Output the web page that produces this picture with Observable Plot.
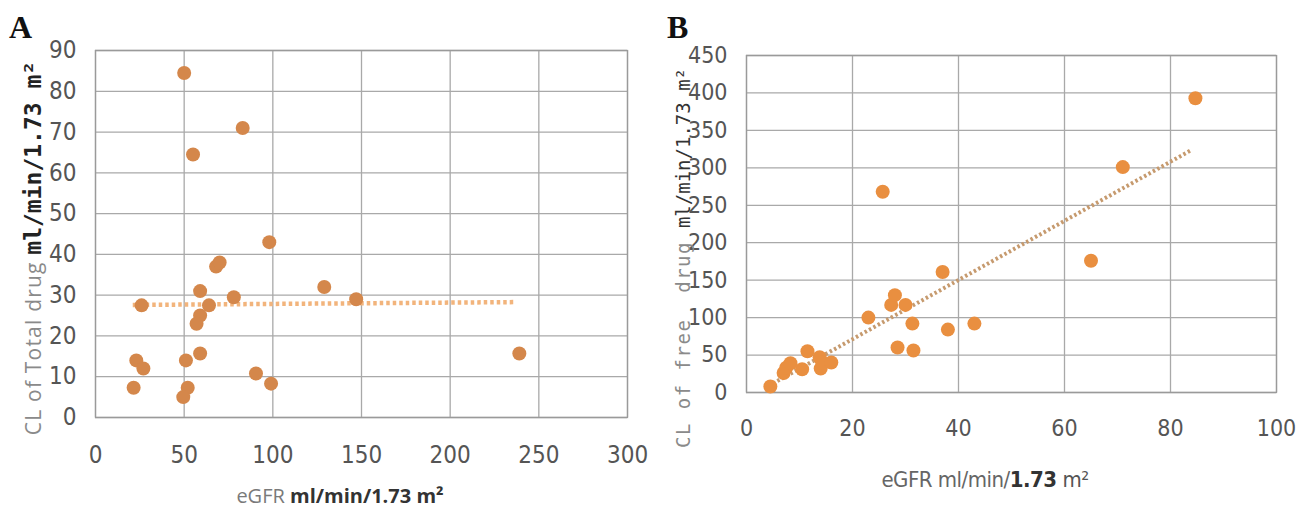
<!DOCTYPE html>
<html><head><meta charset="utf-8">
<script src="https://cdn.jsdelivr.net/npm/d3@7"></script>
<script src="https://cdn.jsdelivr.net/npm/@observablehq/plot@0.6"></script>
<style>
body{margin:0;background:#fff}
#wrap{position:relative;width:1298px;height:511px;overflow:hidden}
.panel{position:absolute;top:0}
</style>
</head><body><div id="wrap"></div>
<script>
// Panel A: eGFR vs CL of total drug
const aEgfr = [50, 83, 55, 98, 68, 70, 59, 78, 64, 26, 59, 57, 59, 23, 27, 51, 21.5, 52, 49.5, 90.5, 99, 129, 147, 239];
const aCl   = [84.5, 71, 64.5, 43, 37, 38, 31, 29.5, 27.5, 27.5, 25, 23, 15.7, 14, 12, 14, 7.3, 7.3, 5, 10.8, 8.3, 32, 29, 15.7];
const aTrendX = [21, 237];
const aTrendY = [27.6, 28.3];
const aXTicks = [0, 50, 100, 150, 200, 250, 300];
const aYTicks = [0, 10, 20, 30, 40, 50, 60, 70, 80, 90];

// Panel B: eGFR vs CL of free drug
const bEgfr = [4.5, 7, 7.5, 8.3, 10.5, 11.5, 13.8, 14, 14.3, 16, 23, 25.7, 27.3, 28, 30, 28.5, 31.3, 31.5, 37, 38, 43, 65, 71, 84.7];
const bCl   = [8, 26, 33, 39, 31, 55, 47, 32, 40, 40, 100, 268, 117, 130, 117, 60, 92, 56, 161, 84, 92, 176, 301, 393];
const bTrendX = [5, 84];
const bTrendY = [12, 324];
const bXTicks = [0, 20, 40, 60, 80, 100];
const bYTicks = [0, 50, 100, 150, 200, 250, 300, 350, 400, 450];

const toRows = (xs, ys) => xs.map((x, i) => ({x, y: ys[i]}));
const tickFont = "'Liberation Sans Narrow', 'DejaVu Sans Condensed', sans-serif";
const gridStyle = {stroke: "#a9a9a9", strokeOpacity: 1, strokeWidth: 1.3};

function panel(opts) {
  return Plot.plot({
    width: 649, height: 511,
    marginLeft: opts.ml, marginRight: 22, marginTop: opts.mt, marginBottom: opts.mb,
    x: {domain: opts.xd},
    y: {domain: opts.yd},
    style: {fontFamily: tickFont, fontSize: "24px", color: "#555", background: "transparent", overflow: "visible"},
    marks: [
      Plot.gridX(opts.xt, gridStyle),
      Plot.gridY(opts.yt, gridStyle),
      Plot.frame({stroke: "#9a9a9a", strokeWidth: 1.3}),
      Plot.axisX(opts.xt, {tickSize: 0, tickPadding: opts.xpad, label: null, fontSize: opts.fs}),
      Plot.axisY(opts.yt, {tickSize: 0, tickPadding: 19, label: null, fontSize: opts.fs}),
      Plot.line(toRows(opts.tx, opts.ty), {x: "x", y: "y", stroke: opts.tc, strokeWidth: opts.tw,
        strokeDasharray: opts.dash, strokeLinecap: "butt"}),
      Plot.dot(toRows(opts.px, opts.py), {x: "x", y: "y", r: 7, fill: opts.dc, stroke: "none"})
    ]
  });
}

const A = panel({ml: 95, mt: 50, mb: 94, xd: [0, 300], yd: [0, 90], xt: aXTicks, yt: aYTicks, xpad: 28, fs: 24,
  tx: aTrendX, ty: aTrendY, tc: "#f2b47c", tw: 4.5, dash: "3.5,3", px: aEgfr, py: aCl, dc: "#d4874b"});
const B = panel({ml: 97, mt: 55, mb: 119, xd: [0, 100], yd: [0, 450], xt: bXTicks, yt: bYTicks, xpad: 27, fs: 23,
  tx: bTrendX, ty: bTrendY, tc: "#c69a6e", tw: 4, dash: "2.5,2.5", px: bEgfr, py: bCl, dc: "#e98f40"});

const wrap = document.getElementById("wrap");
A.classList.add("panel"); A.style.left = "0px";
B.classList.add("panel"); B.style.left = "649px";
wrap.appendChild(A); wrap.appendChild(B);

// Panel letters
function letter(svg, t, x) {
  d3.select(svg).append("text").attr("x", x).attr("y", 38).attr("text-anchor", "start")
    .attr("font-family", "'Liberation Serif', 'DejaVu Serif', serif").attr("font-weight", "bold")
    .attr("font-size", 32).attr("fill", "#111").text(t);
}
letter(A, "A", 9);
letter(B, "B", 18);

// Axis titles A
{
  const t = d3.select(A).append("text").attr("x", 340).attr("y", 503).attr("text-anchor", "middle")
    .attr("font-family", "'Open Sans', sans-serif").attr("font-size", 20);
  t.append("tspan").attr("fill", "#7a7a7a").text("eGFR ");
  t.append("tspan").attr("fill", "#333").attr("font-weight", "bold").text("ml/min/1.73 m²");
  const y = d3.select(A).append("text").attr("transform", "translate(41,248) rotate(-90)").attr("text-anchor", "middle");
  y.append("tspan").attr("fill", "#8a8a8a").attr("font-family", "'Open Sans', sans-serif").attr("font-size", 21)
    .attr("letter-spacing", 1.2).text("CL of Total drug ");
  y.append("tspan").attr("fill", "#222").attr("font-family", "'DejaVu Sans Mono', monospace").attr("font-weight", "bold")
    .attr("font-size", 23).text("ml/min/1.73 m²");
}
// Axis titles B
{
  const t = d3.select(B).append("text").attr("x", 336).attr("y", 487).attr("text-anchor", "middle")
    .attr("font-family", tickFont).attr("font-size", 22).attr("letter-spacing", -0.5);
  t.append("tspan").attr("fill", "#666").text("eGFR ml/min/");
  t.append("tspan").attr("fill", "#333").attr("font-weight", "bold").text("1.73");
  t.append("tspan").attr("fill", "#555").text(" m²");
  const y = d3.select(B).append("text").attr("transform", "translate(41,258) rotate(-90)").attr("text-anchor", "middle")
    .attr("font-family", "'DejaVu Sans Mono', monospace").attr("font-size", 19);
  y.append("tspan").attr("fill", "#8a8a8a").attr("letter-spacing", 1.5).text("CL of free  drug ");
  y.append("tspan").attr("fill", "#333").text("ml/min/1.73 m²");
}
</script></body></html>
